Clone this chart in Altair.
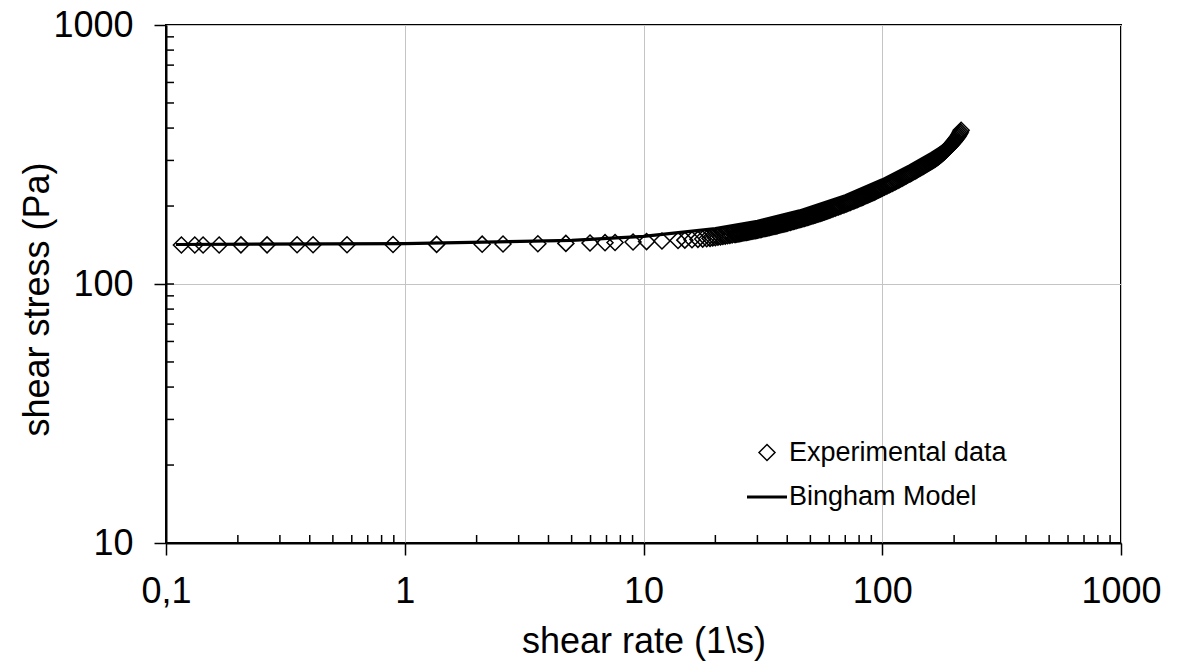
import altair as alt
import pandas as pd

# ---------------- data ----------------
series_names = ["Experimental data", "Bingham Model"]

# sparse part of the measured curve
exp_rate_low = [0.116, 0.132, 0.143, 0.167, 0.206, 0.265, 0.354, 0.413, 0.573, 0.893,
                1.36, 2.11, 2.58, 3.61, 4.73, 5.97, 6.9, 7.6, 9.04, 10.3,
                11.95, 13.95, 14.9, 15.96, 16.9, 17.7, 18.4,
                19.0, 19.5, 20.0, 20.5, 21.0, 21.5, 22.0, 22.5, 23.0, 23.5, 24.0]
exp_stress_low = [141.5, 141.5, 141.5, 141.5, 141.6, 141.6, 141.7, 141.7, 141.8, 142.0,
                  142.2, 142.5, 142.7, 143.1, 143.5, 144.0, 144.4, 144.7, 145.3, 145.8,
                  146.5, 147.3, 147.7, 148.2, 148.7, 149.1, 149.5,
                  150.0, 150.5, 151.0, 151.5, 152.0, 152.6, 153.1, 153.6, 154.1, 154.6,
                  155.2]

# dense part of the measured curve (points overlap into a solid band)
exp_rate_high = [
    24.3, 24.6, 24.9, 25.2, 25.5, 25.8, 26.1, 26.4, 26.7, 27.0, 27.3, 27.6, 27.9,
    28.2, 28.5, 28.8, 29.1, 29.4, 29.7, 30.0,
    30.4, 30.8, 31.2, 31.6, 32.0, 32.4, 32.8, 33.2, 33.6, 34.0, 34.4, 34.8, 35.2,
    35.6, 36.0, 36.4, 36.8, 37.2, 37.6, 38.0, 38.4, 38.8, 39.2, 39.6, 40.0,
    40.6, 41.2, 41.8, 42.4, 43.0, 43.6, 44.2, 44.8, 45.4, 46.0, 46.6, 47.2, 47.8,
    48.4, 49.0, 49.6, 50.2, 50.8, 51.4, 52.0, 52.6, 53.2, 53.8, 54.4, 55.0, 55.6,
    56.2, 56.8, 57.4, 58.0, 58.6, 59.2, 59.8,
    60.5, 61.5, 62.5, 63.5, 64.5, 65.5, 66.5, 67.5, 68.5, 69.5, 70.5, 71.5, 72.5,
    73.5, 74.5, 75.5, 76.5, 77.5, 78.5, 79.5, 80.5, 81.5, 82.5, 83.5, 84.5, 85.5,
    86.5, 87.5, 88.5, 89.5, 90.5, 91.5, 92.5, 93.5, 94.5, 95.5, 96.5, 97.5, 98.5,
    99.5, 100.5,
    102.0, 103.6, 105.2, 106.8, 108.4, 110.0, 111.6, 113.2, 114.8, 116.4, 118.0,
    119.6, 121.2, 122.8, 124.4, 126.0, 127.6, 129.2, 130.8, 132.4, 134.0, 135.6,
    137.2, 138.8, 140.4, 142.0, 143.6, 145.2, 146.8, 148.4, 150.0, 151.6, 153.2,
    154.8, 156.4, 158.0, 159.6, 161.2, 162.8, 164.4, 166.0,
    167.5, 169.0, 170.5, 172.0, 173.5, 175.0, 176.5, 178.0, 179.5, 181.0, 182.5,
    184.0, 185.5, 187.0, 188.5, 190.0, 191.5, 193.0, 194.5, 196.0, 197.5, 199.0,
    200.5, 202.0, 203.5, 205.0, 206.5, 208.0, 209.5, 211.0, 212.5, 214.0]
exp_stress_high = [
    155.5, 155.8, 156.1, 156.4, 156.7, 157.0, 157.3, 157.7, 158.0, 158.3, 158.6,
    158.9, 159.2, 159.5, 159.8, 160.2, 160.5, 160.8, 161.1, 161.4,
    161.8, 162.2, 162.6, 163.1, 163.5, 163.9, 164.3, 164.7, 165.1, 165.6, 166.0,
    166.4, 166.8, 167.2, 167.6, 168.1, 168.5, 168.9, 169.3, 169.7, 170.1, 170.6,
    171.0, 171.4, 171.8,
    172.4, 173.0, 173.7, 174.3, 174.9, 175.5, 176.2, 176.8, 177.4, 178.0, 178.7,
    179.3, 179.9, 180.5, 181.2, 181.8, 182.4, 183.0, 183.7, 184.3, 184.9, 185.5,
    186.2, 186.8, 187.4, 188.0, 188.6, 189.3, 189.9, 190.5, 191.1, 191.8, 192.4,
    193.1, 194.2, 195.2, 196.2, 197.3, 198.3, 199.4, 200.4, 201.4, 202.5, 203.5,
    204.6, 205.6, 206.6, 207.7, 208.7, 209.8, 210.8, 211.8, 212.9, 213.9, 215.0,
    216.0, 217.0, 218.1, 219.1, 220.2, 221.2, 222.2, 223.3, 224.3, 225.4, 226.4,
    227.4, 228.5, 229.5, 230.6, 231.6, 232.6, 233.7, 234.7,
    236.3, 237.9, 239.6, 241.3, 242.9, 244.6, 246.3, 247.9, 249.6, 251.3, 252.9,
    254.6, 256.2, 257.9, 259.6, 261.2, 262.9, 264.6, 266.2, 267.9, 269.6, 271.2,
    272.9, 274.6, 276.2, 277.9, 279.5, 281.2, 282.9, 284.5, 286.2, 287.9, 289.5,
    291.2, 292.9, 294.5, 296.2, 297.8, 299.5, 301.2, 302.8,
    304.6, 306.5, 308.4, 310.4, 312.4, 314.4, 316.5, 318.6, 320.8, 323.0, 325.3,
    327.6, 330.0, 332.4, 334.9, 337.4, 340.0, 342.6, 345.3, 348.0, 350.8, 353.7,
    356.6, 359.6, 362.7, 365.9, 369.2, 373.0, 377.0, 381.5, 386.5, 392.0]

model_rate = [0.11, 1, 5, 10, 20, 30, 45, 70, 100, 130, 160, 190, 212]
model_stress = [142.1, 143.1, 147.5, 152.8, 163.5, 174.5, 191.5, 219.0, 252.5, 286.0,
                319.0, 352.0, 376.0]

x_ticks = [0.1, 1, 10, 100, 1000]
y_ticks = [10, 100, 1000]
x_minor = [0.2, 0.3, 0.4, 0.5, 0.6, 0.7, 0.8, 0.9,
           2, 3, 4, 5, 6, 7, 8, 9,
           20, 30, 40, 50, 60, 70, 80, 90,
           200, 300, 400, 500, 600, 700, 800, 900]
y_inner = [20, 30, 40, 50, 60, 70, 80, 90, 100,
           200, 300, 400, 500, 600, 700, 800, 900]

# ---------------- layout ----------------
W, H = 955, 518
FONT = "Liberation Sans"

exp_df = pd.DataFrame({"rate": exp_rate_low + exp_rate_high,
                       "stress": exp_stress_low + exp_stress_high,
                       "series": series_names[0]})
model_df = pd.DataFrame({"rate": model_rate, "stress": model_stress,
                         "series": series_names[1]})

xscale = alt.Scale(type="log", domain=[0.1, 1000], nice=False)
yscale = alt.Scale(type="log", domain=[10, 1000], nice=False)

x_axis = alt.Axis(
    values=x_ticks,
    labelExpr="datum.value < 0.5 ? '0,1' : format(datum.value, 'd')",
    title="shear rate (1\\s)",
    grid=True, gridColor="#c4c4c4", gridWidth=1,
    tickSize=12, tickColor="black", tickWidth=1.5,
    domainColor="black", domainWidth=2,
    labelFont=FONT, labelFontSize=36, labelFontWeight="normal", labelColor="black",
    labelPadding=19, labelFlush=False, labelOverlap=False,
    titleFont=FONT, titleFontSize=36, titleFontWeight="normal", titleColor="black",
    titleBaseline="alphabetic", titleY=109,
)
y_axis = alt.Axis(
    values=y_ticks, format="d",
    title="shear stress (Pa)",
    grid=True, gridColor="#c4c4c4", gridWidth=1,
    tickSize=12, tickColor="black", tickWidth=1.5,
    domainColor="black", domainWidth=2,
    labelFont=FONT, labelFontSize=36, labelFontWeight="normal", labelColor="black",
    labelPadding=21, labelFlush=False, labelOverlap=False,
    titleFont=FONT, titleFontSize=36, titleFontWeight="normal", titleColor="black",
    titleBaseline="alphabetic", titleX=-118, titleY=274, titleAngle=270,
)

legend = alt.Legend(
    title=None, orient="none", legendX=579, legendY=414,
    labelFont=FONT, labelFontSize=27, labelColor="black", labelOffset=0,
    labelLimit=500,
    symbolStrokeColor="black", symbolFillColor="transparent",
    rowPadding=9,
)

shape_scale = alt.Scale(domain=series_names, range=["diamond", "stroke"])
size_scale = alt.Scale(domain=series_names, range=[256, 1600])
sw_scale = alt.Scale(domain=series_names, range=[1.5, 3.2])

points = alt.Chart(exp_df).mark_point(filled=False, color="black", opacity=1).encode(
    x=alt.X("rate:Q", scale=xscale, axis=x_axis),
    y=alt.Y("stress:Q", scale=yscale, axis=y_axis),
    shape=alt.Shape("series:N", scale=shape_scale, legend=legend),
    size=alt.Size("series:N", scale=size_scale, legend=legend),
    strokeWidth=alt.StrokeWidth("series:N", scale=sw_scale, legend=legend),
)

line = alt.Chart(model_df).mark_line(color="black").encode(
    x=alt.X("rate:Q", scale=xscale, axis=x_axis),
    y=alt.Y("stress:Q", scale=yscale, axis=y_axis),
    strokeWidth=alt.StrokeWidth("series:N", scale=sw_scale, legend=legend),
)

xminor = alt.Chart(pd.DataFrame({"v": x_minor})).mark_tick(
    color="black", thickness=1.5, size=8, opacity=1
).encode(
    x=alt.X("v:Q", scale=xscale, axis=x_axis),
    y=alt.value(H - 4),
)

yminor = alt.Chart(pd.DataFrame({"v": y_inner})).mark_tick(
    color="black", thickness=1.5, size=8, opacity=1
).encode(
    y=alt.Y("v:Q", scale=yscale, axis=y_axis),
    x=alt.value(4),
)

chart = alt.layer(points, xminor, yminor, line).properties(
    width=W, height=H,
    padding={"left": 166, "top": 25, "right": 57, "bottom": 125},
    autosize="none",
    background="white",
).configure_view(
    stroke="black", strokeWidth=2,
)

chart.save("out.html", embed_options={"renderer": "svg", "actions": False})
